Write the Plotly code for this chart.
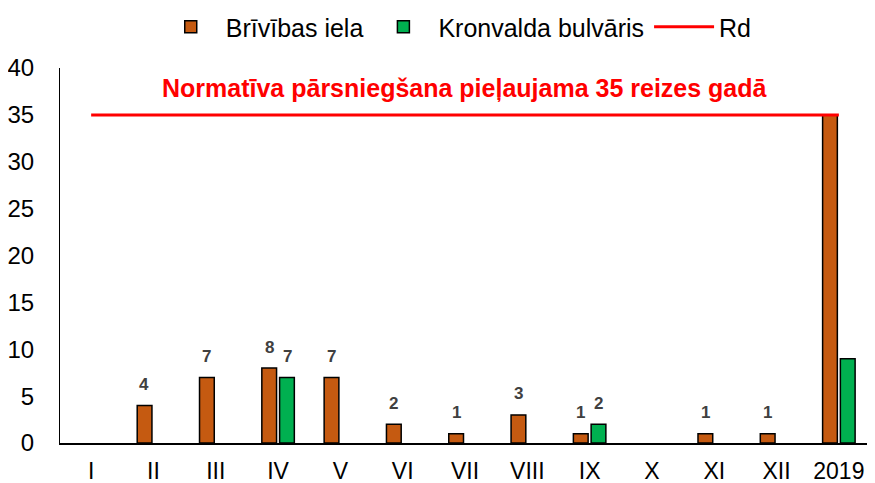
import plotly.graph_objects as go

categories = ["I", "II", "III", "IV", "V", "VI", "VII", "VIII", "IX", "X", "XI", "XII", "2019"]
brivibas = [0, 4, 7, 8, 7, 2, 1, 3, 1, 0, 1, 1, 35]
kronvalda = [0, 0, 0, 7, 0, 0, 0, 0, 2, 0, 0, 0, 9]
rd = [35] * len(categories)
note = "Normatīva pārsniegšana pieļaujama 35 reizes gadā"

FONT = "Liberation Sans, Arial"

def nz(vals):
    return [v if v else None for v in vals]

fig = go.Figure()
fig.add_trace(go.Bar(
    x=categories, y=nz(brivibas), name="Brīvības iela",
    marker=dict(color="#C55A11", line=dict(color="black", width=1.5)),
))
fig.add_trace(go.Bar(
    x=categories, y=nz(kronvalda), name="Kronvalda bulvāris",
    marker=dict(color="#00B050", line=dict(color="black", width=1.5)),
))
fig.add_trace(go.Scatter(
    x=categories, y=rd, name="Rd", mode="lines",
    line=dict(color="#FF0000", width=3),
))

# data labels
for series, shift in ((brivibas, -9), (kronvalda, 9)):
    for c, v in zip(categories, series):
        if v:
            fig.add_annotation(
                x=c, y=v, xref="x", yref="y", text=str(v), showarrow=False,
                xshift=shift, yshift=21,
                font=dict(family=FONT, size=17, color="#404040", weight="bold"),
            )

fig.add_annotation(
    x=0.497, xref="paper", y=37.9, yref="y", text=note, showarrow=False,
    font=dict(family=FONT, size=25, color="#FF0000", weight="bold"),
)

fig.update_layout(
    width=867, height=475,
    margin=dict(l=52, r=0, t=60, b=40, autoexpand=False),
    paper_bgcolor="white", plot_bgcolor="white",
    barmode="group", bargap=0.43, bargroupgap=0.17,
    font=dict(family=FONT, size=23, color="black"),
    showlegend=True,
    legend=dict(orientation="h", x=0.517, xanchor="center", xref="container",
                y=0.96, yanchor="middle", yref="container", itemwidth=60,
                font=dict(size=25, color="black"), traceorder="normal"),
    xaxis=dict(range=[-0.5, 12.58], showline=True, linecolor="black", linewidth=2,
               ticks="", showgrid=False, tickfont=dict(size=23), ticklabelstandoff=6,
               automargin=False),
    yaxis=dict(range=[0, 40], dtick=5, showline=True, linecolor="black", linewidth=1,
               ticks="", showgrid=False, zeroline=False, tickfont=dict(size=24),
               ticklabelstandoff=20, automargin=False),
)

fig.write_html("out.html")
